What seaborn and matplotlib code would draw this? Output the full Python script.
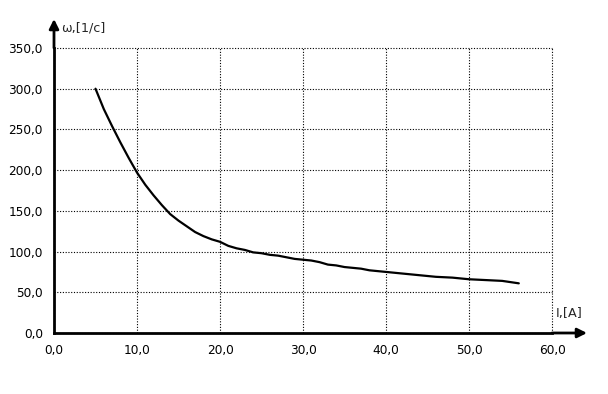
import matplotlib
matplotlib.use("Agg")
import matplotlib.pyplot as plt
import seaborn as sns
import pandas as pd
from matplotlib.ticker import MultipleLocator, FuncFormatter

current_a = [5, 6, 7, 8, 9, 10, 11, 12, 13, 14, 15, 16, 17, 18, 19, 20,
             21, 22, 23, 24, 25, 26, 27, 28, 29, 30, 31, 32, 33, 34, 35,
             36, 37, 38, 39, 40, 42, 44, 46, 48, 50, 52, 54, 56]
omega = [300, 275, 254, 234, 215, 197, 182, 169, 157, 146, 138, 131, 124,
         119, 115, 112, 107, 104, 102, 99, 98, 96, 95, 93, 91, 90, 89, 87,
         84, 83, 81, 80, 79, 77, 76, 75, 73, 71, 69, 68, 66, 65, 64, 61]

x_label = "I,[A]"
y_label = "ω,[1/c]"

df = pd.DataFrame({"I": current_a, "w": omega})

sns.set_style("white")
plt.rcParams['font.family'] = ['DejaVu Sans']

fig = plt.figure(figsize=(6.08, 3.94), dpi=100)
ax = fig.add_axes([54 / 608, 1 - 333 / 394, (552 - 54) / 608, (333 - 48) / 394])

sns.lineplot(data=df, x="I", y="w", ax=ax, color="black", linewidth=1.6)

ax.set_xlim(0, 60)
ax.set_ylim(0, 350)
ax.xaxis.set_major_locator(MultipleLocator(10))
ax.xaxis.set_minor_locator(MultipleLocator(2))
ax.yaxis.set_major_locator(MultipleLocator(50))
ax.yaxis.set_minor_locator(MultipleLocator(10))
fmt = FuncFormatter(lambda v, p: f"{v:.1f}".replace(".", ","))
ax.xaxis.set_major_formatter(fmt)
ax.yaxis.set_major_formatter(fmt)

ax.grid(True, which="major", color="black", linestyle=(0, (1, 1.5)), linewidth=0.8)
ax.set_axisbelow(True)
for gl in ax.get_xgridlines() + ax.get_ygridlines():
    gl.set_clip_on(False)

for s in ["top", "right"]:
    ax.spines[s].set_visible(False)
for s in ["left", "bottom"]:
    ax.spines[s].set_color("black")
    ax.spines[s].set_linewidth(2)
    ax.spines[s].set_zorder(5)

ax.tick_params(which="both", direction="out", color="black", width=1.5,
               labelsize=8.7, labelcolor="black")
ax.tick_params(which="major", length=4, pad=4)
ax.tick_params(which="minor", length=3)
ax.set_xlabel("")
ax.set_ylabel("")

# axis arrows
ax.annotate("", xy=(1.0, 0), xycoords="axes fraction",
            xytext=(587 / 608, 1 - 333 / 394), textcoords="figure fraction",
            arrowprops=dict(arrowstyle="<|-", color="black", lw=2,
                            mutation_scale=14, shrinkA=0, shrinkB=0),
            annotation_clip=False)
ax.annotate("", xy=(0, 1.0), xycoords="axes fraction",
            xytext=(54 / 608, 1 - 19 / 394), textcoords="figure fraction",
            arrowprops=dict(arrowstyle="<|-", color="black", lw=2,
                            mutation_scale=14, shrinkA=0, shrinkB=0),
            annotation_clip=False)

fig.text(61 / 608, 1 - 28 / 394, y_label, fontsize=9.2, va="center", ha="left")
fig.text(556 / 608, 1 - 313 / 394, x_label, fontsize=9.2, va="center", ha="left")

fig.savefig("out.png", dpi=100, facecolor="white")
